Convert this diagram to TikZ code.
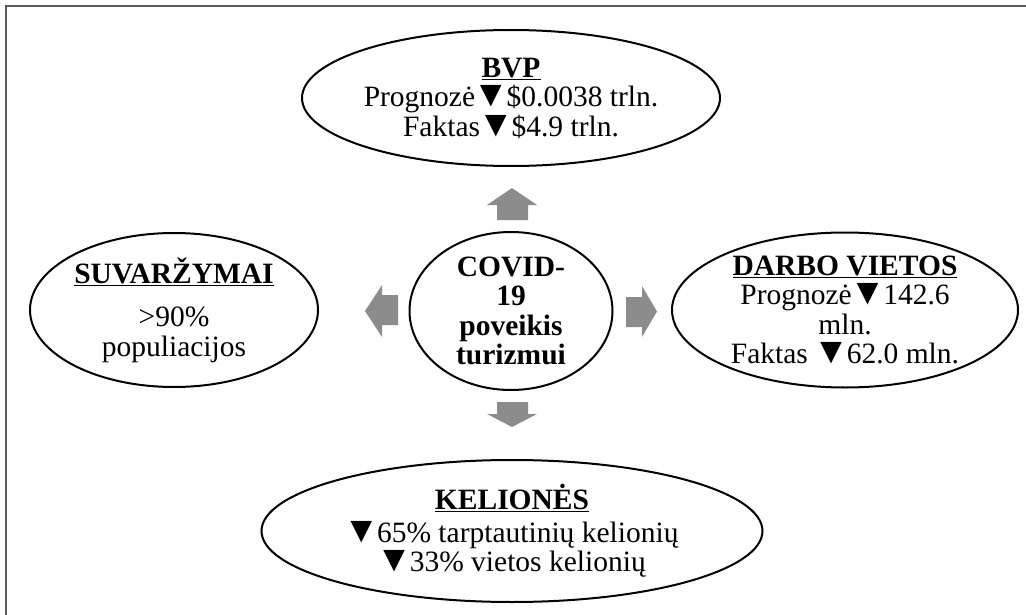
\documentclass[tikz,border=0pt]{standalone}
\usepackage{graphicx}
\usepackage{fontspec}
\setmainfont{Liberation Serif}
\usetikzlibrary{shapes.geometric}
\definecolor{framegray}{HTML}{5A5A5A}
\definecolor{arrowgray}{HTML}{8C8C8C}
\newcommand{\downtri}{\hspace{-2.5pt}\scalebox{1.25}{▼}\hspace{-2.5pt}}
\tikzset{
  bubble/.style={ellipse, draw=black, line width=2pt, inner sep=0pt, align=center,
    font=\fontsize{29.5}{29.5}\selectfont},
  blockarrow/.style={fill=arrowgray, draw=none},
}
\begin{document}
\begin{tikzpicture}[x=1pt,y=-1pt]
\useasboundingbox (0,0) rectangle (1026,615);
\fill[white] (0,0) rectangle (1026,615);
% frame (top and left edges only)
\draw[framegray, line width=2pt] (1026,6) -- (6,6) -- (6,615);

% ellipses
\node[bubble, minimum width=418pt, minimum height=136pt] (bvp) at (511,98)
  {\textbf{\underline{BVP}}\\Prognozė\downtri\$0.0038 trln.\\Faktas\downtri\$4.9 trln.};
\node[bubble, minimum width=203pt, minimum height=158pt] (covid) at (511,311)
  {\bfseries COVID-\\\bfseries 19\\\bfseries poveikis\\\bfseries turizmui};
\node[bubble, minimum width=346pt, minimum height=155pt] (darbo) at (845,310)
  {\textbf{\underline{DARBO VIETOS}}\\Prognozė\downtri142.6\\mln.\\Faktas \downtri62.0 mln.};
\node[bubble, minimum width=288pt, minimum height=154pt] (suv) at (174,310)
  {\textbf{\underline{SUVARŽYMAI}}\\[14pt]>90\%\\populiacijos};
\node[bubble, minimum width=501pt, minimum height=142pt] (kel) at (512,531)
  {\textbf{\underline{KELIONĖS}}\\[3pt]\downtri65\% tarptautinių kelionių\\\downtri33\% vietos kelionių};

% block arrows
\fill[blockarrow] (512,188) -- (537,205) -- (528,205) -- (528,220) -- (497,220) -- (497,205) -- (487,205) -- cycle;
\fill[blockarrow] (497,402) -- (528,402) -- (528,414) -- (537,414) -- (512,427) -- (487,414) -- (497,414) -- cycle;
\fill[blockarrow] (626,297) -- (642,297) -- (642,286) -- (657,311.5) -- (642,337) -- (642,327) -- (626,327) -- cycle;
\fill[blockarrow] (398,295) -- (382,295) -- (382,285) -- (365,311) -- (382,337) -- (382,325) -- (398,325) -- cycle;
\end{tikzpicture}
\end{document}
